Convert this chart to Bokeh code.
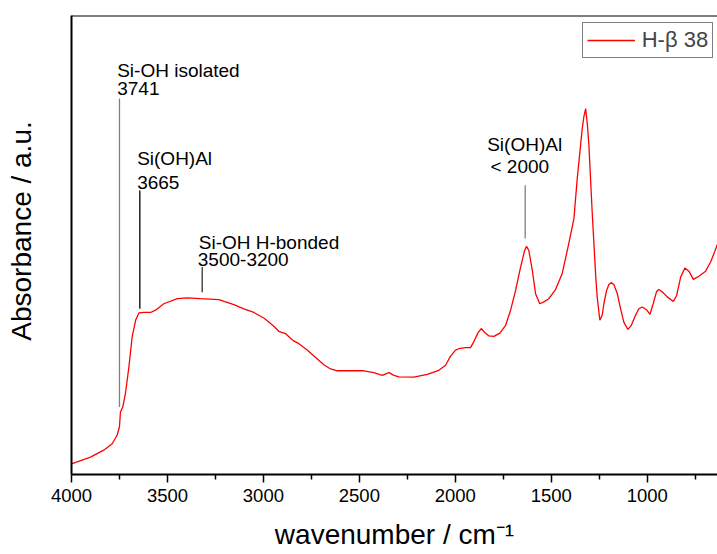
from bokeh.plotting import figure
from bokeh.models import Range1d, FixedTicker, Span, Legend, LegendItem
from bokeh.core.properties import value
from bokeh.embed import file_html
from bokeh.resources import INLINE

# ---- data ----
wavenumber = [4000, 3901, 3832, 3788, 3762, 3750, 3745, 3733, 3719, 3701, 3684, 3666,
              3649, 3623, 3588, 3562, 3519, 3449, 3397, 3328, 3276, 3232, 3197, 3154,
              3102, 3050, 2998, 2972, 2946, 2920, 2885, 2859, 2842, 2815, 2772, 2728,
              2685, 2650, 2615, 2546, 2477, 2425, 2381, 2346, 2320, 2294, 2216, 2146,
              2086, 2051, 2025, 1999, 1982, 1947, 1921, 1904, 1883, 1865, 1848, 1825,
              1799, 1768, 1738, 1712, 1686, 1660, 1639, 1629, 1617, 1599, 1582, 1560,
              1539, 1513, 1478, 1443, 1409, 1382, 1365, 1339, 1330, 1321, 1312, 1304,
              1287, 1269, 1261, 1247, 1235, 1226, 1212, 1200, 1188, 1174, 1156, 1139,
              1122, 1101, 1083, 1061, 1044, 1026, 1004, 986, 969, 952, 940, 922, 896,
              864, 847, 826, 804, 783, 760, 731, 696, 670, 649, 635]
absorbance = [0.023, 0.038, 0.053, 0.067, 0.086, 0.104, 0.136, 0.147, 0.176, 0.234,
              0.300, 0.336, 0.352, 0.353, 0.353, 0.358, 0.372, 0.383, 0.385, 0.383,
              0.382, 0.381, 0.376, 0.370, 0.361, 0.353, 0.341, 0.332, 0.323, 0.312,
              0.307, 0.297, 0.291, 0.285, 0.271, 0.255, 0.239, 0.230, 0.226, 0.226,
              0.226, 0.222, 0.216, 0.222, 0.216, 0.2125, 0.212, 0.218, 0.227, 0.238,
              0.258, 0.271, 0.274, 0.2765, 0.2765, 0.289, 0.308, 0.318, 0.310, 0.302,
              0.301, 0.308, 0.325, 0.358, 0.401, 0.452, 0.488, 0.497, 0.488, 0.445,
              0.394, 0.372, 0.376, 0.383, 0.403, 0.438, 0.503, 0.558, 0.644, 0.753,
              0.780, 0.797, 0.762, 0.717, 0.572, 0.435, 0.387, 0.336, 0.347, 0.372,
              0.401, 0.414, 0.418, 0.414, 0.394, 0.361, 0.332, 0.316, 0.325, 0.347,
              0.361, 0.365, 0.359, 0.349, 0.372, 0.398, 0.403, 0.398, 0.387, 0.377,
              0.390, 0.430, 0.450, 0.443, 0.425, 0.432, 0.443, 0.463, 0.485, 0.501]
series_name = "H-\u03b2 38"

major_ticks = [4000, 3500, 3000, 2500, 2000, 1500, 1000]
minor_ticks = [3750, 3250, 2750, 2250, 1750, 1250, 750]

x_title = "wavenumber / cm\u207b\u00b9"
y_title = "\u2003Absorbance / a.u."

# annotation marker lines: position, top, bottom
marker_x = [3750, 3644, 3319, 1636]
marker_top = [0.819, 0.619, 0.452, 0.630]
marker_bottom = [0.147, 0.361, 0.397, 0.514]
marker_color = ["#808080", "#000000", "#333333", "#808080"]

# annotation texts
ann_text = ["Si-OH isolated", "3741", "Si(OH)Al", "3665",
            "Si-OH H-bonded", "3500-3200", "Si(OH)Al", "< 2000"]
ann_x = [3762, 3762, 3658, 3658, 3337, 3342, 1834, 1817]
ann_y = [0.880, 0.842, 0.688, 0.637, 0.506, 0.468, 0.719, 0.670]

FONT = "Liberation Sans"

p = figure(width=717, height=554, output_backend="svg", toolbar_location=None,
           x_range=Range1d(4000, 634), y_range=Range1d(0, 1),
           min_border_left=71, min_border_right=0, min_border_top=15,
           min_border_bottom=80)
p.outline_line_color = None
p.grid.visible = False
p.background_fill_color = "white"
p.border_fill_color = "white"

# x axis
xa = p.xaxis[0]
xa.ticker = FixedTicker(ticks=major_ticks, minor_ticks=minor_ticks)
xa.axis_line_width = 2
xa.axis_line_color = "black"
xa.major_tick_in = 0
xa.major_tick_out = 8
xa.minor_tick_in = 0
xa.minor_tick_out = 5
xa.major_tick_line_width = 1.5
xa.minor_tick_line_width = 1.5
xa.major_label_text_font = FONT
xa.major_label_text_font_size = "18.5px"
xa.major_label_text_color = "black"
xa.major_label_standoff = 6
xa.axis_label = x_title
xa.axis_label_text_font = FONT
xa.axis_label_text_font_size = "28px"
xa.axis_label_text_font_style = "normal"
xa.axis_label_text_color = "black"
xa.axis_label_standoff = 14

# y axis (no ticks)
ya = p.yaxis[0]
ya.ticker = FixedTicker(ticks=[])
ya.axis_line_width = 2
ya.axis_line_color = "black"
ya.major_tick_out = 0
ya.major_tick_in = 0
ya.minor_tick_out = 0
ya.minor_tick_in = 0
ya.major_label_text_font_size = "0px"
ya.axis_label = y_title
ya.axis_label_text_font = FONT
ya.axis_label_text_font_size = "28px"
ya.axis_label_text_font_style = "normal"
ya.axis_label_text_color = "black"
ya.axis_label_standoff = 35

# top frame line
p.add_layout(Span(location=1, dimension="width", line_color="black", line_width=2))

# spectrum
r = p.line(wavenumber, absorbance, line_color="red", line_width=1.3)

# annotation marker lines
p.segment(x0=marker_x, y0=marker_top, x1=marker_x, y1=marker_bottom,
          line_color=marker_color, line_width=1.3)

# annotation texts
p.text(x=ann_x, y=ann_y, text=ann_text, text_font=value(FONT),
       text_font_size=value("19px"), text_color="black",
       text_align="left", text_baseline="alphabetic")

# legend
legend = Legend(items=[LegendItem(label=series_name, renderers=[r])],
                location=(510.7, 416), orientation="vertical",
                border_line_color="black", border_line_width=1,
                background_fill_color="white", background_fill_alpha=1,
                padding=4, margin=0, spacing=0,
                glyph_width=48, glyph_height=20, label_standoff=7,
                label_text_font=FONT, label_text_font_size="22px",
                label_height=20)
p.add_layout(legend)

open("out.html", "w").write(file_html(p, INLINE))
